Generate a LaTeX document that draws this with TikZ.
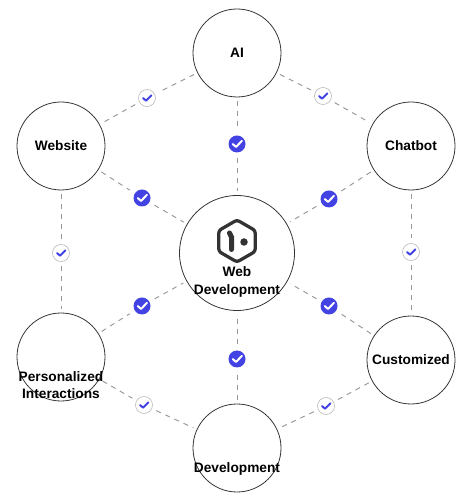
\documentclass[tikz,border=0pt]{standalone}
\usepackage{fontspec}
\setmainfont{Liberation Sans}
\usetikzlibrary{shapes.geometric}
\definecolor{badgeblue}{HTML}{4343E4}
\definecolor{inkgrey}{HTML}{333333}

\begin{document}
\begin{tikzpicture}[every node/.style={font=\fontsize{7.8}{9.8}\selectfont\bfseries,text=black,align=center},hub/.style={circle,draw=inkgrey,line width=.45pt,fill=white,inner sep=0pt,outer sep=.08cm,minimum size=1.76cm},mainhub/.style={hub,minimum size=2.3cm},link/.style={draw=black!40,line width=.55pt,dash pattern=on .1cm off .1cm},solidbadge/.style={circle,fill=badgeblue,inner sep=0pt,outer sep=.12cm,minimum size=.34cm,path picture={\draw[white,line width=.04cm,line cap=round,line join=round] ([shift={(-.085,0)}]path picture bounding box.center)--++(.065,-.06)--++(.12,.125);}},ringbadge/.style={circle,draw=black!30,line width=.3pt,fill=white,inner sep=0pt,outer sep=.1cm,minimum size=.34cm,path picture={\draw[badgeblue,line width=.04cm,line cap=round,line join=round] ([shift={(-.08,0)}]path picture bounding box.center)--++(.06,-.055)--++(.11,.11);}}]
\useasboundingbox (0,0) rectangle (9.48,9.94);
\node[hub] (ai) at (4.74,8.88) {AI};
\node[hub] (website) at (1.22,7.02) {Website};
\node[hub] (chatbot) at (8.22,7.02) {Chatbot};
\node[mainhub] (web) at (4.74,4.88) {};
\node[hub] (pers) at (1.22,2.8) {};
\node[hub] (cust) at (8.22,2.74) {Customized};
\node[hub] (dev) at (4.74,.98) {};
% labels that sit low in their circles
\node (weblabel) at (4.74,4.3) {Web\\Development};
\node (perslabel) at (1.22,2.24) {Personalized\\Interactions};
\node (devlabel) at (4.74,.57) {Development};
% badges on the spokes
\node[solidbadge] (s1) at (4.74,7.06) {};
\node[solidbadge] (s2) at (2.84,5.98) {};
\node[solidbadge] (s3) at (6.58,5.96) {};
\node[solidbadge] (s4) at (2.84,3.82) {};
\node[solidbadge] (s5) at (6.58,3.82) {};
\node[solidbadge] (s6) at (4.74,2.76) {};
% badges on the outer ring
\node[ringbadge] (r1) at (2.94,7.98) {};
\node[ringbadge] (r2) at (6.46,8.02) {};
\node[ringbadge] (r3) at (1.22,4.88) {};
\node[ringbadge] (r4) at (8.22,4.9) {};
\node[ringbadge] (r5) at (2.88,1.84) {};
\node[ringbadge] (r6) at (6.52,1.82) {};
\foreach \from/\via/\to in {ai/s1/web,website/s2/web,chatbot/s3/web,pers/s4/web,cust/s5/web,dev/s6/web,ai/r1/website,ai/r2/chatbot,website/r3/pers,chatbot/r4/cust,pers/r5/dev,cust/r6/dev}
  \draw[link] (\from)--(\via) (\via)--(\to);
% hexagon logo
\node[regular polygon,regular polygon sides=6,shape border rotate=30,draw=inkgrey,line width=.065cm,rounded corners=.05cm,inner sep=0pt,minimum size=.84cm] (logo) at (4.74,5.12) {};
\draw[inkgrey,line width=.1cm,line cap=round] (4.59,5.28)--(4.63,5.2)--(4.63,4.95);
\fill[inkgrey] (4.88,5.1) circle (.075);
\end{tikzpicture}
\end{document}
